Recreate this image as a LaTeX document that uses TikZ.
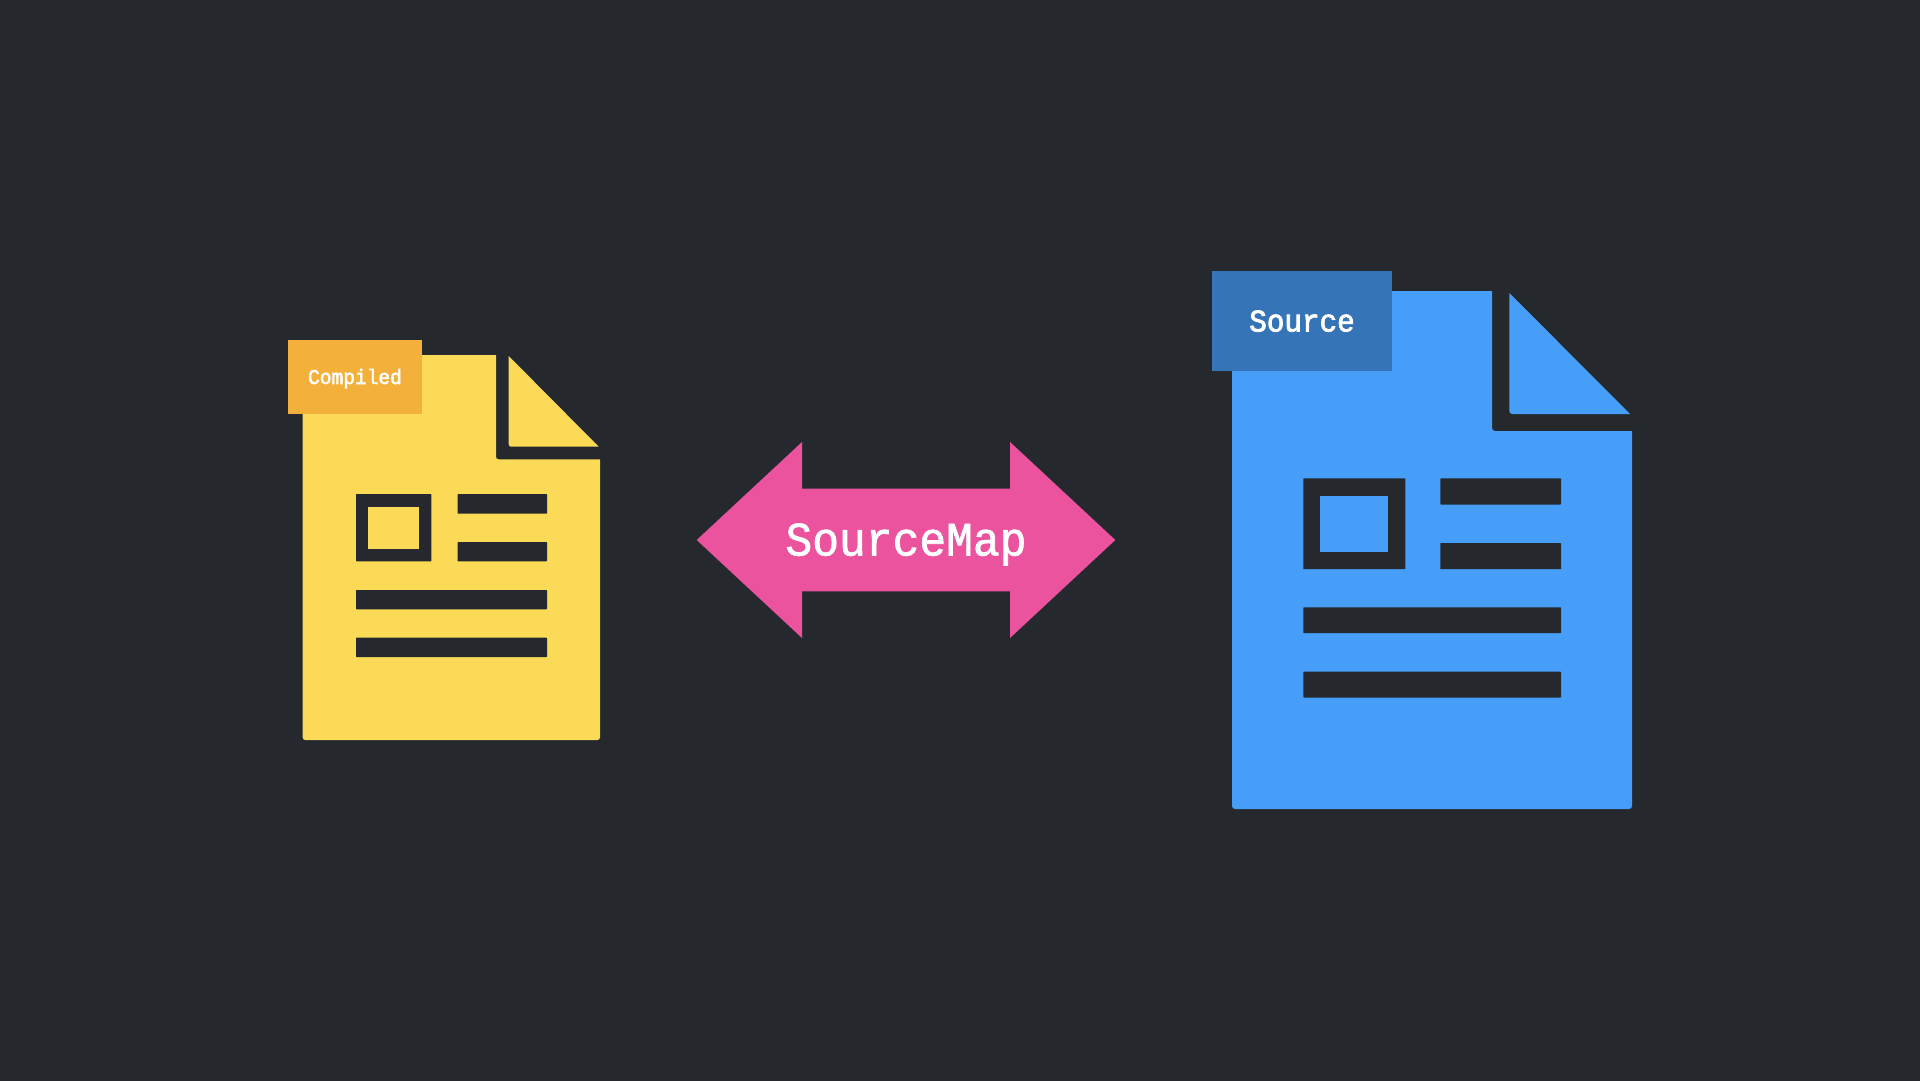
\documentclass[tikz,border=0pt]{standalone}
\usepackage{fontspec}
\newfontfamily\labfont[FakeBold=1.4,FakeStretch=0.93]{Liberation Mono}
\newfontfamily\smallfont[FakeBold=2.4,FakeStretch=0.93]{Liberation Mono}
\definecolor{bgc}{HTML}{25282D}
\definecolor{yel}{HTML}{FADA56}
\definecolor{org}{HTML}{F3B03B}
\definecolor{blu}{HTML}{469EF9}
\definecolor{dbl}{HTML}{3574B7}
\definecolor{pnk}{HTML}{EC539F}
\tikzset{
  hole/.style={fill=bgc,rounded corners=0.6pt},
  lab/.style={text=white,inner sep=0pt,anchor=base},
}
\begin{document}
\begin{tikzpicture}[x=1pt,y=-1pt]
\useasboundingbox (0,0) rectangle (1920,1080);
\fill[bgc] (-5,-5) rectangle (1925,1085);
% left document
\fill[yel] (496,355) -- (302.7,355) [rounded corners=2.5pt] -- (302.7,740) -- (600,740) [sharp corners] -- (600,459.3) [rounded corners=2.5pt] -- (496,459.3) [sharp corners] -- cycle;
\fill[yel] (508.7,356) [rounded corners=2.5pt] -- (508.7,446.7) [sharp corners] -- (598.7,446.7) -- cycle;
\fill[hole] (356,494) rectangle (431.3,561.3);
\fill[yel] (368.3,507.3) rectangle (418.7,548.7);
\fill[hole] (457.7,494) rectangle (547,513.7);
\fill[hole] (457.7,542) rectangle (547,561.3);
\fill[hole] (356,590) rectangle (547,609.3);
\fill[hole] (356,637.7) rectangle (547,657);
\fill[org] (288,340) rectangle (422,414.3);
\node[lab,font=\smallfont\fontsize{21}{21}\selectfont] (compiled) at (355,384) {Compiled};
% right document
\fill[blu] (1492,291) -- (1232,291) [rounded corners=3pt] -- (1232,809) -- (1632,809) [sharp corners] -- (1632,431) [rounded corners=3pt] -- (1492,431) [sharp corners] -- cycle;
\fill[blu] (1509.3,292.9) [rounded corners=3pt] -- (1509.3,414) [sharp corners] -- (1630,414) -- cycle;
\fill[hole] (1303.3,478.3) rectangle (1405.3,569.2);
\fill[blu] (1320.3,496) rectangle (1388,551.7);
\fill[hole] (1440.3,478.3) rectangle (1561,504.5);
\fill[hole] (1440.3,543) rectangle (1561,569.2);
\fill[hole] (1303.3,607.3) rectangle (1561,633);
\fill[hole] (1303.3,671.7) rectangle (1561,697.5);
\fill[dbl] (1212,270.7) rectangle (1392.3,370.7);
\node[lab,font=\smallfont\fontsize{31.5}{32}\selectfont] (source) at (1302,331.5) {Source};
% arrow
\fill[pnk] (696.7,540) -- (802,442) -- (802,488.7) -- (1010,488.7) -- (1010,442) -- (1115.3,540) -- (1010,638) -- (1010,591.3) -- (802,591.3) -- (802,638) -- cycle;
\node[lab,font=\labfont\fontsize{48}{48}\selectfont] (sourcemap) at (906,555.5) {SourceMap};
\end{tikzpicture}
\end{document}
